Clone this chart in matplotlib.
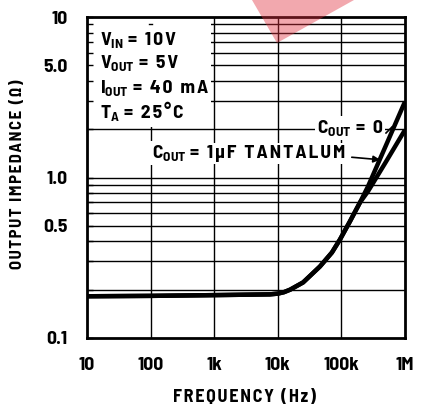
import matplotlib
matplotlib.use("Agg")
import matplotlib.pyplot as plt
from matplotlib import font_manager
from matplotlib.patches import Polygon, Rectangle

# ---- data ----
freq = [10, 100, 1e3, 7.5e3, 1e4, 1.25e4, 1.56e4, 2.5e4, 4.6e4, 7.1e4, 9.5e4, 1.36e5, 1.96e5, 2.62e5, 5e5, 1e6]
z_tantalum = [0.182, 0.183, 0.185, 0.187, 0.189, 0.193, 0.200, 0.222, 0.279, 0.341, 0.411, 0.532, 0.699, 0.82, 1.25, 1.98]
z_cout0 = [0.182, 0.183, 0.185, 0.187, 0.189, 0.193, 0.200, 0.222, 0.279, 0.341, 0.411, 0.532, 0.699, 0.88, 1.58, 2.97]
xticks = [10, 100, 1e3, 1e4, 1e5, 1e6]
xticklabels = ["10", "100", "1k", "10k", "100k", "1M"]
yticks = [0.1, 0.5, 1.0, 5.0, 10]
yticklabels = ["0.1", "0.5", "1.0", "5.0", "10"]
cond_syms = [r"$\mathbf{V_{IN}}$", r"$\mathbf{V_{OUT}}$", r"$\mathbf{I_{OUT}}$", r"$\mathbf{T_{A}}$"]
cond_vals = ["= 10V", "= 5V", "= 40 mA", "= 25°C"]

names = {f.name for f in font_manager.fontManager.ttflist}
FONT = "Barlow Semi Condensed" if "Barlow Semi Condensed" in names else "DejaVu Sans"
plt.rcParams["font.family"] = [FONT, "DejaVu Sans"]
plt.rcParams["font.weight"] = "bold"
plt.rcParams["mathtext.fontset"] = "custom"
plt.rcParams["mathtext.rm"] = FONT + ":bold"
plt.rcParams["mathtext.bf"] = FONT + ":bold"
plt.rcParams["mathtext.it"] = FONT + ":bold:italic"

sp = "\u200a"

def spaced(s):
    return sp.join(s)

W, H = 422, 408
fig = plt.figure(figsize=(W / 100, H / 100), dpi=100)
renderer = fig.canvas.get_renderer()
L, R, T, B = 87, 405, 17, 338
ax = fig.add_axes([L / W, 1 - B / H, (R - L) / W, (B - T) / H])
ax.set_xscale("log")
ax.set_yscale("log")
ax.set_xlim(10, 1e6)
ax.set_ylim(0.1, 10)

def fx(px):
    return px / W

def fy(py):
    return 1 - py / H

def seq_text(x_px, base_px, parts, gaps, fontsize=14, bbox=None, zorder=3):
    x = x_px
    for s, g in zip(parts, gaps):
        x += g
        t = fig.text(fx(x), fy(base_px), s, fontsize=fontsize, ha="left", va="baseline",
                     bbox=bbox, zorder=zorder)
        x = t.get_window_extent(renderer=renderer).x1
    return x

# grid
for xv in xticks[1:-1]:
    ax.axvline(xv, color="black", lw=1.0, zorder=1)
for dec in [0.1, 1.0]:
    for m in range(2, 10):
        ax.axhline(dec * m, color="black", lw=1.0, zorder=1)
ax.axhline(1.0, color="black", lw=1.0, zorder=1)

# white box behind the conditions
ax.add_patch(Rectangle((10, 2.07), 900 - 10, 10 - 2.07, facecolor="white", edgecolor="none", zorder=2))
ax.plot([93, 107], [9, 9], color="black", lw=1.0, zorder=2.1)

ax.plot(freq, z_tantalum, color="black", lw=3.2, solid_capstyle="butt", solid_joinstyle="round", zorder=4)
ax.plot(freq, z_cout0, color="black", lw=3.2, solid_capstyle="butt", solid_joinstyle="round", zorder=4)

ax.set_axisbelow(False)
ax.set_xticks(xticks)
ax.set_xticklabels(xticklabels)
ax.set_yticks(yticks)
ax.set_yticklabels(yticklabels)
ax.set_yticks([v * d for d in [0.1, 1.0] for v in range(2, 10) if v != 5], minor=True)
ax.yaxis.set_minor_formatter(matplotlib.ticker.NullFormatter())
ax.xaxis.set_minor_locator(matplotlib.ticker.NullLocator())
ax.tick_params(axis="y", which="both", direction="in", length=4, width=1, right=False, pad=14, labelsize=14)
ax.tick_params(axis="x", which="both", length=0, pad=14, labelsize=14)
for s in ax.spines.values():
    s.set_linewidth(2)

fig.text(fx(244), fy(397), spaced("FREQUENCY (Hz)"), fontsize=13, ha="center", va="center")
fig.text(fx(18), fy(174), spaced("OUTPUT IMPEDANCE (Ω)"), fontsize=12, ha="center", va="center", rotation=90)

# conditions text
for sym, val, base in zip(cond_syms, cond_vals, [45, 68, 93, 118]):
    seq_text(100, base, [sym, spaced(val)], [0, 4], zorder=5)

bb = dict(facecolor="white", edgecolor="none", pad=1.5)
seq_text(317, 133, [r"$\mathbf{C_{OUT}}$", spaced("= 0")], [0, 5], bbox=bb)
seq_text(152, 158, [r"$\mathbf{C_{OUT}}$", spaced("= 1µF TANTALUM")], [0, 4], bbox=bb)
ax.annotate("", xy=(fx(383), fy(160)), xytext=(fx(349), fy(157)), xycoords="figure fraction",
            textcoords="figure fraction",
            arrowprops=dict(arrowstyle="-|>", color="black", lw=1.2, mutation_scale=10), zorder=5)
ax.plot([fx(386), fx(392)], [fy(133), fy(127)], color="black", lw=1.2, zorder=5, transform=fig.transFigure)

# watermark triangle
tri = Polygon([[fx(252), 1.0], [fx(354), 1.0], [fx(277), fy(43)]], closed=True,
              transform=fig.transFigure, facecolor="#e0303f", alpha=0.42, edgecolor="none", zorder=10)
fig.patches.append(tri)

fig.savefig("out.png", dpi=100)
